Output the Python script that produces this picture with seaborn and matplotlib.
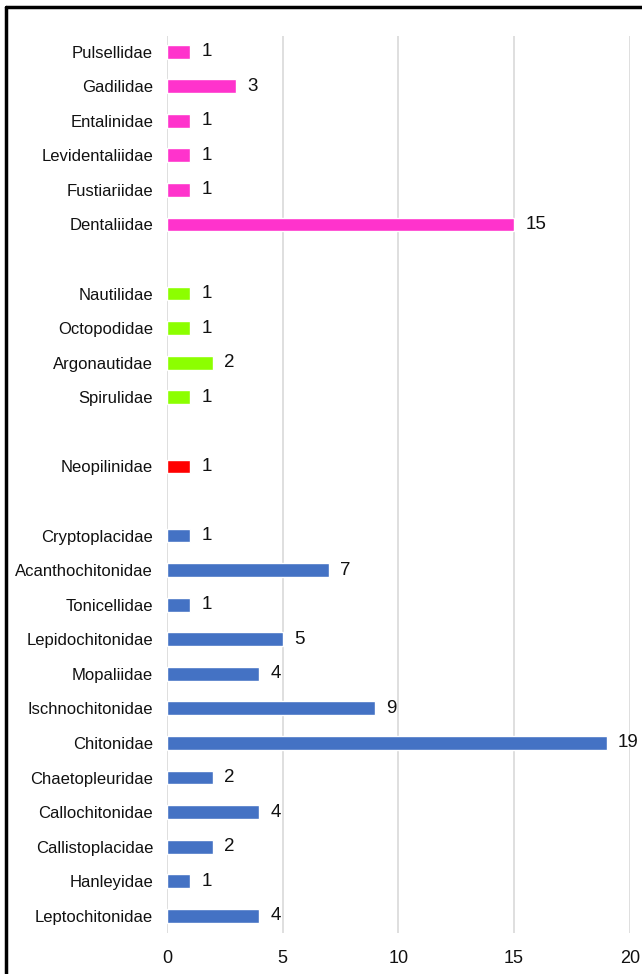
import pandas as pd
import matplotlib.pyplot as plt
import seaborn as sns
from matplotlib.lines import Line2D

# Data (top to bottom), groups separated by blank rows
scapho_families = ["Pulsellidae", "Gadilidae", "Entalinidae", "Levidentaliidae",
                   "Fustiariidae", "Dentaliidae"]
scapho_counts = [1, 3, 1, 1, 1, 15]

cephalo_families = ["Nautilidae", "Octopodidae", "Argonautidae", "Spirulidae"]
cephalo_counts = [1, 1, 2, 1]

mono_families = ["Neopilinidae"]
mono_counts = [1]

poly_families = ["Cryptoplacidae", "Acanthochitonidae", "Tonicellidae",
                 "Lepidochitonidae", "Mopaliidae", "Ischnochitonidae",
                 "Chitonidae", "Chaetopleuridae", "Callochitonidae",
                 "Callistoplacidae", "Hanleyidae", "Leptochitonidae"]
poly_counts = [1, 7, 1, 5, 4, 9, 19, 2, 4, 2, 1, 4]

group_colors = {"Scaphopoda": "#FF33CC", "Cephalopoda": "#8CFF00",
                "Monoplacophora": "#FF0000", "Polyplacophora": "#4472C4"}

rows = []
for grp, fams, vals in [("Scaphopoda", scapho_families, scapho_counts),
                        ("Cephalopoda", cephalo_families, cephalo_counts),
                        ("Monoplacophora", mono_families, mono_counts),
                        ("Polyplacophora", poly_families, poly_counts)]:
    for f, v in zip(fams, vals):
        rows.append({"family": f, "count": v, "group": grp})
df = pd.DataFrame(rows)

# order with spacer rows between groups
order = (scapho_families + [" "] + cephalo_families + ["  "] +
         mono_families + ["   "] + poly_families)
full = pd.DataFrame({"family": order}).merge(df, on="family", how="left")
full["group"] = full["group"].fillna("Polyplacophora")

sns.set_style("white")
plt.rcParams["font.family"] = ["Liberation Sans Narrow", "Liberation Sans", "DejaVu Sans"]

fig = plt.figure(figsize=(6.42, 9.74), dpi=100)
ax = fig.add_axes([0.26, 0.042, 0.721, 0.921])

sns.barplot(data=full, y="family", x="count", hue="group", order=order,
            palette=group_colors, dodge=False, width=0.4, legend=False,
            saturation=1, orient="h", ax=ax)

for c in ax.containers:
    labels = ["" if pd.isna(v) else f"{int(v)}" for v in c.datavalues]
    ax.bar_label(c, labels=labels, padding=8, fontsize=13.5, color="#111111")

ax.set_xlim(0, 20)
ax.set_ylim(len(order) - 0.5, -0.45)
ax.set_xticks([0, 5, 10, 15, 20])
ax.xaxis.grid(True, color="#D9D9D9", linewidth=1.2)
ax.set_axisbelow(True)
for s in ax.spines.values():
    s.set_visible(False)
ax.tick_params(axis="y", length=0, pad=10, labelsize=12, labelcolor="#111111")
ax.tick_params(axis="x", length=0, pad=12, labelsize=13, labelcolor="#111111")
ax.set_xlabel("")
ax.set_ylabel("")

# frame lines on top and left like the source picture
fig.add_artist(Line2D([0.009, 1.0], [0.993, 0.993], color="black", linewidth=2.5,
                      transform=fig.transFigure))
fig.add_artist(Line2D([0.009, 0.009], [0.0, 0.993], color="black", linewidth=2.5,
                      transform=fig.transFigure))

fig.savefig("out.png", dpi=100)
